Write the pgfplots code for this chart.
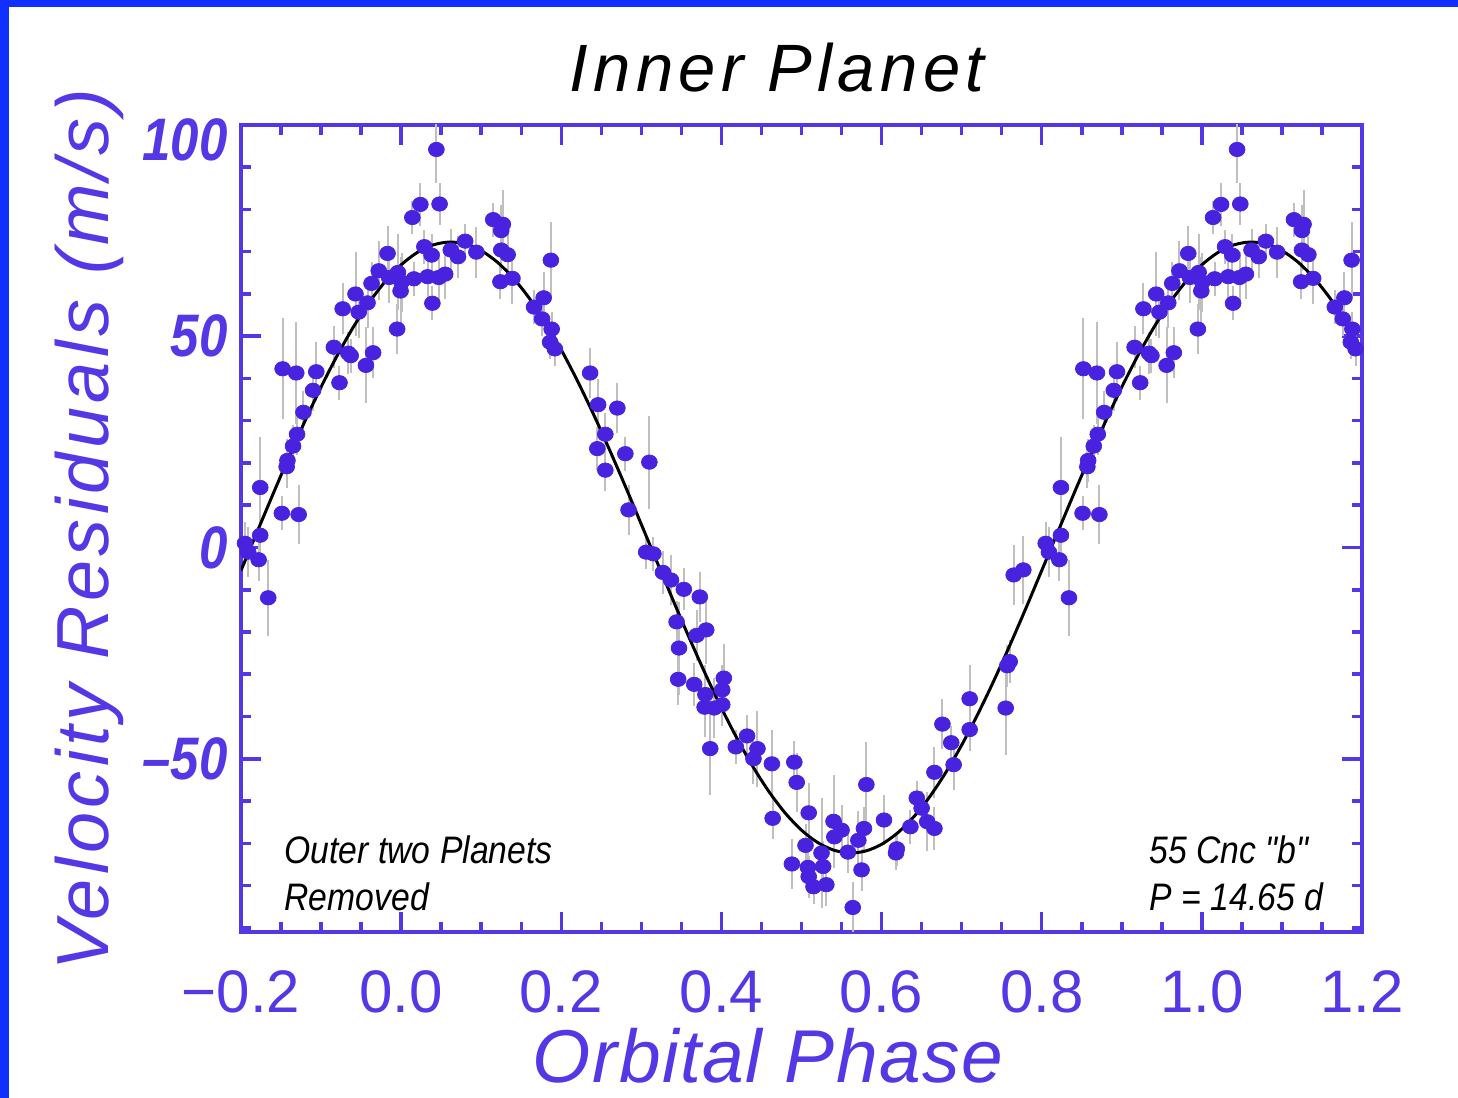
\documentclass[border=0pt]{standalone}
\usepackage{pgfplots}
\pgfplotsset{compat=1.18}
\usepackage{pgfplotstable}
\usepackage{fontspec}
\setmainfont{Liberation Sans}
\newfontfamily\titlefont[LetterSpace=8]{Liberation Sans}
\newfontfamily\ylabfont[LetterSpace=6]{Liberation Sans}
\newfontfamily\xlabfont[LetterSpace=2]{Liberation Sans}
% same face without the TeX quote mapping, for straight double quotes
\newfontfamily\qfont[Ligatures=ResetAll]{Liberation Sans}

\definecolor{axcol}{RGB}{85,55,230}
\definecolor{ptcol}{RGB}{72,34,222}
\definecolor{framecol}{RGB}{16,48,255}

% Velocity residuals folded on the 14.65 d period: phase p, velocity v (m/s), error e (m/s)
\pgfplotstableread{
p v e
0.0005 62.8 7
0.014 78.1 4
0.016 63.6 4
0.024 81.2 5
0.029 71.2 4
0.033 64.1 5
0.038 69.2 5
0.039 57.8 4
0.044 94.2 8
0.047 63.9 6
0.048 81.3 5
0.055 64.7 6
0.062 70.4 5
0.071 68.8 5
0.080 72.5 4
0.094 69.9 6
0.115 77.6 4
0.124 62.9 4
0.125 70.4 5
0.125 75.0 6
0.127 76.5 8
0.133 69.3 6
0.139 63.7 6
0.166 56.9 4
0.176 54.1 4
0.178 59.1 6
0.186 48.6 4
0.187 68.0 9
0.188 51.7 4
0.192 47.0 4
0.236 41.3 6
0.245 23.4 5
0.246 33.8 6
0.255 26.8 5
0.255 18.3 5
0.270 33.0 6
0.280 22.2 4
0.284 8.9 6
0.306 -1.1 4
0.310 20.2 11
0.315 -1.5 4
0.327 -5.9 5
0.337 -7.7 6
0.344 -17.6 5
0.346 -31.2 6
0.347 -23.8 11
0.353 -9.9 5
0.366 -32.4 5
0.369 -20.8 6
0.373 -11.7 6
0.379 -37.8 7
0.380 -34.8 7
0.381 -19.5 8
0.386 -47.6 11
0.391 -38.0 7
0.401 -33.7 6
0.401 -37.2 5
0.403 -30.9 8
0.418 -47.2 4
0.432 -44.6 5
0.440 -50.0 6
0.445 -47.6 9
0.463 -51.2 8
0.464 -64.1 5
0.488 -74.9 6
0.491 -50.8 5
0.494 -55.6 7
0.505 -70.5 5
0.508 -75.7 5
0.509 -62.8 7
0.509 -77.9 5
0.515 -80.3 4
0.525 -72.3 13
0.527 -75.5 6
0.531 -79.8 5
0.540 -64.8 11
0.541 -68.5 6
0.550 -66.9 6
0.558 -72.1 5
0.564 -85.2 6
0.571 -69.3 7
0.575 -76.3 5
0.578 -66.5 5
0.581 -56.1 10
0.603 -64.5 6
0.618 -72.3 4
0.619 -71.3 4
0.636 -66.1 4
0.644 -59.3 4
0.650 -61.7 4
0.657 -64.9 7
0.666 -66.5 5
0.666 -53.2 6
0.676 -41.8 6
0.687 -46.2 4
0.690 -51.4 6
0.710 -35.8 8
0.710 -43.1 5
0.755 -38.0 11
0.757 -28.0 5
0.760 -27.0 5
0.765 -6.5 7
0.777 -5.3 8
0.805 1.0 5
0.809 -1.1 6
0.822 -2.9 5
0.824 2.9 6
0.824 14.2 12
0.834 -11.9 9
0.851 8.1 4
0.852 42.3 12
0.857 19.1 5
0.858 20.6 5
0.865 24.0 5
0.869 41.3 12
0.870 26.8 5
0.872 7.8 7
0.878 32.0 5
0.890 37.2 5
0.894 41.6 7
0.916 47.4 5
0.923 39.0 4
0.927 56.5 6
0.934 46.0 5
0.937 45.4 4
0.943 60.0 10
0.947 55.7 6
0.956 43.1 9
0.958 57.9 6
0.963 62.5 5
0.965 46.1 6
0.972 65.5 7
0.983 69.6 6.5
0.985 63.9 6
0.995 51.7 6
0.996 65.1 9
0.9993 60.7 8
}\rvdata

\pgfplotsset{
  rvpts/.style={
    only marks, mark=*, mark size=2.05pt,
    mark options={fill=ptcol, draw=ptcol, line width=0.2pt, xscale=1.1},
    restrict x to domain=-0.2:1.2,
    error bars/.cd, y dir=both, y explicit, error mark=none,
    error bar style={color=black!25, line width=0.57pt},
  },
}

\begin{document}
\begin{tikzpicture}[x=1cm,y=1cm]
\useasboundingbox (0,0) rectangle (14.58,10.98);
\fill[white] (0,0) rectangle (14.58,10.98);
\fill[framecol] (0,10.91) rectangle (14.58,10.98);
\fill[framecol] (0,0) rectangle (0.09,10.98);

\begin{axis}[
  at={(2.41cm,1.66cm)}, anchor=south west,
  scale only axis, width=11.21cm, height=8.07cm,
  xmin=-0.2, xmax=1.2, ymin=-91, ymax=100,
  axis line style={axcol, line width=1.14pt},
  every tick/.style={axcol, line width=1pt},
  major tick length=0.2cm, minor tick length=0.1cm,
  tick align=inside,
  xtick={-0.2,0,0.2,0.4,0.6,0.8,1.0,1.2},
  xticklabels={−0.2,0.0,0.2,0.4,0.6,0.8,1.0,1.2},
  minor xtick={-0.15,-0.1,-0.05,0.05,0.1,0.15,0.25,0.3,0.35,0.45,0.5,0.55,0.65,0.7,0.75,0.85,0.9,0.95,1.05,1.1,1.15},
  ytick={-50,0,50,100},
  yticklabels={–50,0,50,\raisebox{-0.15cm}[\height][0pt]{100}},
  minor ytick={-90,-80,-70,-60,-40,-30,-20,-10,10,20,30,40,60,70,80,90},
  xticklabel style={font=\fontsize{17.07}{17.07}\selectfont, text=axcol, inner sep=0pt, anchor=north, yshift=-0.38cm},
  yticklabel style={font=\fontsize{17.07}{17.07}\selectfont\bfseries\itshape, text=axcol, inner sep=0pt, anchor=east, xshift=-0.13cm, xscale=0.85},
  clip=true,
]
\addplot[rvpts] table[x expr=\thisrow{p}-1, y=v, y error=e] {\rvdata};
\addplot[rvpts] table[x=p, y=v, y error=e] {\rvdata};
\addplot[rvpts] table[x expr=\thisrow{p}+1, y=v, y error=e] {\rvdata};

% fitted orbit of the inner planet
\addplot[black, line width=0.85pt, smooth, no marks] coordinates {
(-0.20,-5.44) (-0.18,3.63) (-0.16,12.65) (-0.14,21.48) (-0.12,29.96) (-0.10,37.98)
(-0.08,45.38) (-0.06,52.08) (-0.04,57.96) (-0.02,62.93) (0.00,66.90) (0.02,69.81)
(0.04,71.61) (0.06,72.29) (0.08,71.84) (0.10,70.25) (0.12,67.55) (0.14,63.78)
(0.16,59.01) (0.18,53.30) (0.20,46.77) (0.22,39.50) (0.24,31.62) (0.26,23.23)
(0.28,14.48) (0.30,5.45) (0.32,-3.63) (0.34,-12.65) (0.36,-21.48) (0.38,-29.96)
(0.40,-37.98) (0.42,-45.38) (0.44,-52.08) (0.46,-57.96) (0.48,-62.93) (0.50,-66.90)
(0.52,-69.81) (0.54,-71.61) (0.56,-72.29) (0.58,-71.84) (0.60,-70.25) (0.62,-67.55)
(0.64,-63.78) (0.66,-59.01) (0.68,-53.30) (0.70,-46.77) (0.72,-39.50) (0.74,-31.62)
(0.76,-23.23) (0.78,-14.48) (0.80,-5.45) (0.82,3.63) (0.84,12.65) (0.86,21.48)
(0.88,29.96) (0.90,37.98) (0.92,45.38) (0.94,52.08) (0.96,57.96) (0.98,62.93)
(1.00,66.90) (1.02,69.81) (1.04,71.61) (1.06,72.29) (1.08,71.84) (1.10,70.25)
(1.12,67.55) (1.14,63.78) (1.16,59.01) (1.18,53.30) (1.20,46.77)
};
\end{axis}

% title and axis labels
\node[anchor=base, inner sep=0pt, font={\fontsize{19.06}{22}\titlefont\itshape}] at (7.77,10.06) {Inner Planet};
\node[anchor=base, inner sep=0pt, rotate=90, text=axcol, font={\fontsize{21}{24}\ylabfont\itshape}] at (1.08,5.68) {Velocity Residuals (m/s)};
\node[anchor=base, inner sep=0pt, text=axcol, font={\fontsize{21.3}{24}\xlabfont\itshape}] at (7.68,0.15) {Orbital Phase};

% annotations inside the frame
\tikzset{annot/.style={anchor=base west, inner sep=0pt, xscale=0.88, font=\fontsize{10.9}{12}\selectfont\itshape}}
\node[annot] at (2.84,2.34) {Outer two Planets};
\node[annot] at (2.84,1.87) {Removed};
\node[annot] at (11.49,2.34) {55 Cnc {\qfont\itshape "}b{\qfont\itshape "}};
\node[annot] at (11.49,1.87) {P = 14.65 d};
\end{tikzpicture}
\end{document}
